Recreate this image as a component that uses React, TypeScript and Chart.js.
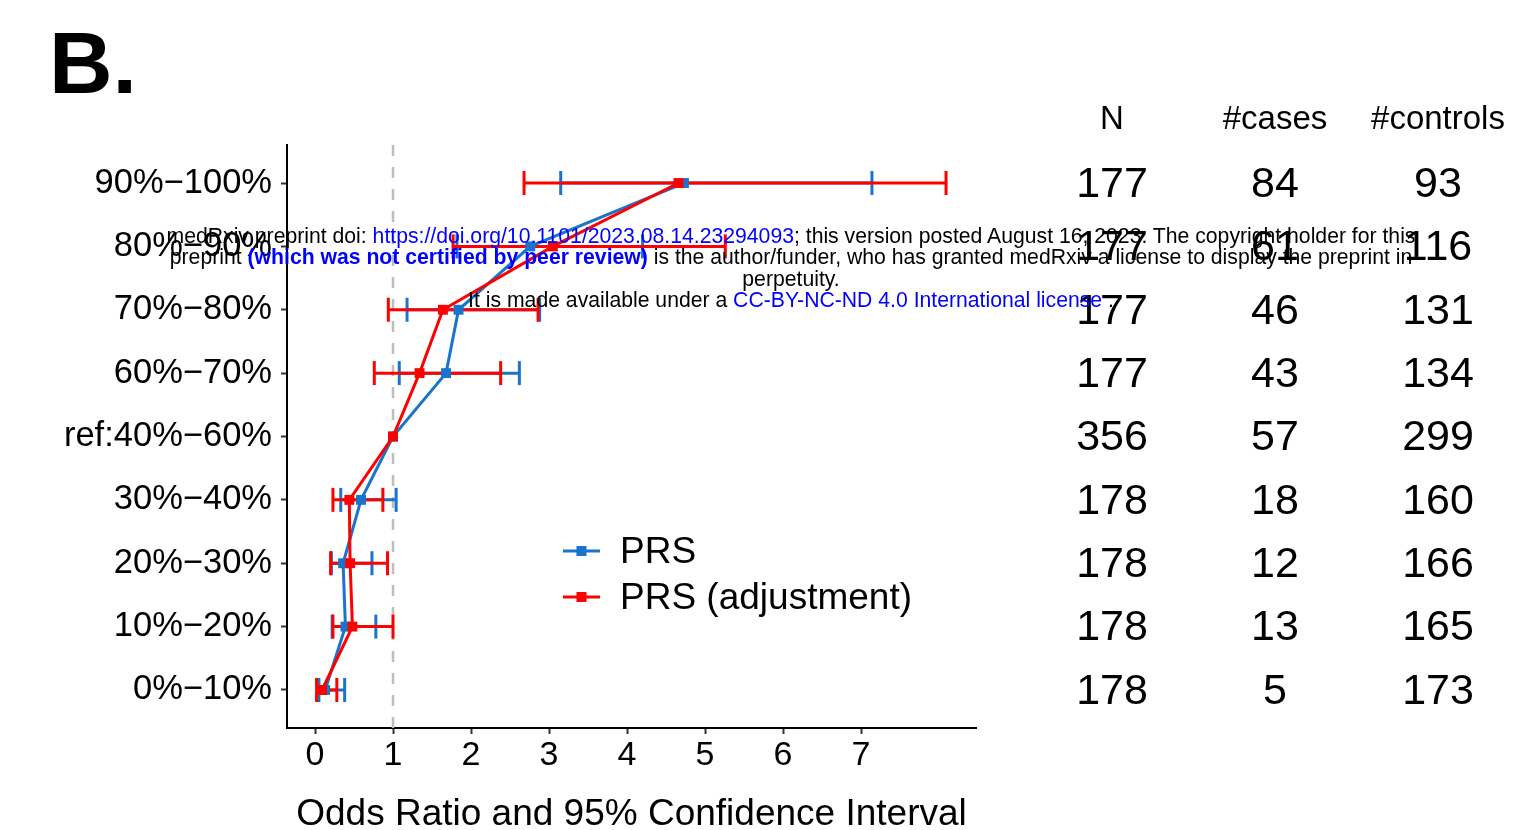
import React, { useEffect, useRef } from "react";
import { Chart, registerables } from "chart.js";

Chart.register(...registerables);

// ---------- data ----------
const rowLabels = [
  "90%−100%",
  "80%−90%",
  "70%−80%",
  "60%−70%",
  "ref:40%−60%",
  "30%−40%",
  "20%−30%",
  "10%−20%",
  "0%−10%",
];
const prsOR = [4.73, 2.76, 1.84, 1.68, 1.0, 0.59, 0.36, 0.39, 0.13];
const prsLo = [3.15, 1.82, 1.18, 1.08, null, 0.33, 0.21, 0.22, 0.05];
const prsHi = [7.14, 4.2, 2.88, 2.62, null, 1.04, 0.73, 0.78, 0.38];
const adjOR = [4.66, 3.05, 1.64, 1.34, 1.0, 0.44, 0.45, 0.48, 0.09];
const adjLo = [2.68, 1.77, 0.94, 0.76, null, 0.23, 0.2, 0.23, 0.02];
const adjHi = [8.09, 5.26, 2.86, 2.38, null, 0.87, 0.93, 1.0, 0.28];

const nTotal = [177, 177, 177, 177, 356, 178, 178, 178, 178];
const nCases = [84, 61, 46, 43, 57, 18, 12, 13, 5];
const nControls = [93, 116, 131, 134, 299, 160, 166, 165, 173];
const tableHeaders = ["N", "#cases", "#controls"];

const xTicks = [0, 1, 2, 3, 4, 5, 6, 7];
const refValue = 1;
const seriesNames = ["PRS", "PRS (adjustment)"];
const xTitle = "Odds Ratio and 95% Confidence Interval";
const panelLabel = "B.";

// ---------- style ----------
const FONT = "'Liberation Sans', Arial, Helvetica, sans-serif";
const BLUE = "#1874CD";
const RED = "#FF0000";
const X_MIN = -0.359;
const X_MAX = 8.474;
const Y_MIN = -0.6;
const Y_MAX = rowLabels.length - 1 + 0.6;

const toPoints = (vals: number[]) => vals.map((v, i) => ({ x: v, y: i }));
const toErrorBars = (lo: (number | null)[], hi: (number | null)[]) => {
  const out: { x: number | null; y: number | null }[] = [];
  lo.forEach((l, i) => {
    const h = hi[i];
    if (l == null || h == null) return;
    out.push({ x: l, y: i }, { x: h, y: i }, { x: null, y: null });
  });
  return out;
};

const overlayPlugin = {
  id: "overlay",
  afterDraw(chart: any) {
    const ctx = chart.ctx;
    const yScale = chart.scales.y;
    ctx.save();
    // panel label
    ctx.fillStyle = "#000";
    ctx.font = `bold 88px ${FONT}`;
    ctx.textAlign = "left";
    ctx.textBaseline = "alphabetic";
    ctx.fillText(panelLabel, 49, 93);

    // table
    const colX = [1112, 1275, 1438];
    const cols = [nTotal, nCases, nControls];
    ctx.textAlign = "center";
    ctx.textBaseline = "middle";
    ctx.font = `33px ${FONT}`;
    tableHeaders.forEach((h, c) => ctx.fillText(h, colX[c], 120));
    ctx.font = `43px ${FONT}`;
    cols.forEach((col, c) => {
      col.forEach((v, i) => {
        ctx.fillText(String(v), colX[c], yScale.getPixelForValue(i) + 2);
      });
    });

    // legend
    const items = [
      { label: seriesNames[0], color: BLUE, y: 551 },
      { label: seriesNames[1], color: RED, y: 597 },
    ];
    items.forEach((it) => {
      ctx.strokeStyle = it.color;
      ctx.lineWidth = 3;
      ctx.beginPath();
      ctx.moveTo(563, it.y);
      ctx.lineTo(600, it.y);
      ctx.stroke();
      ctx.fillStyle = it.color;
      ctx.fillRect(581.5 - 5, it.y - 5, 10, 10);
      ctx.fillStyle = "#000";
      ctx.font = `37px ${FONT}`;
      ctx.textAlign = "left";
      ctx.textBaseline = "middle";
      ctx.fillText(it.label, 620, it.y + 2);
    });
    ctx.restore();
  },
};

export default function App() {
  const canvasRef = useRef<HTMLCanvasElement | null>(null);

  useEffect(() => {
    if (!canvasRef.current) return;
    const errCommon = {
      type: "line" as const,
      borderWidth: 3,
      pointStyle: "line" as const,
      pointRotation: 90,
      pointRadius: 12,
      pointBorderWidth: 3,
      spanGaps: false,
      fill: false,
    };
    const chart = new Chart(canvasRef.current, {
      type: "line",
      data: {
        datasets: [
          {
            label: "ref",
            data: [
              { x: refValue, y: Y_MIN },
              { x: refValue, y: Y_MAX },
            ],
            borderColor: "#BEBEBE",
            borderWidth: 2.5,
            borderDash: [11, 11],
            pointRadius: 0,
            order: 6,
          },
          {
            ...errCommon,
            label: seriesNames[0] + " CI",
            data: toErrorBars(prsLo, prsHi) as any,
            borderColor: BLUE,
            pointBorderColor: BLUE,
            order: 5,
          },
          {
            ...errCommon,
            label: seriesNames[1] + " CI",
            data: toErrorBars(adjLo, adjHi) as any,
            borderColor: RED,
            pointBorderColor: RED,
            order: 4,
          },
          {
            label: seriesNames[0],
            data: toPoints(prsOR),
            borderColor: BLUE,
            borderWidth: 3,
            pointStyle: "rect",
            pointRadius: 7,
            pointBorderWidth: 0,
            pointBackgroundColor: BLUE,
            order: 3,
          },
          {
            label: seriesNames[1],
            data: toPoints(adjOR),
            borderColor: RED,
            borderWidth: 3,
            pointStyle: "rect",
            pointRadius: 7,
            pointBorderWidth: 0,
            pointBackgroundColor: RED,
            order: 2,
          },
        ],
      },
      options: {
        animation: false,
        responsive: false,
        maintainAspectRatio: false,
        events: [],
        layout: { padding: { left: 0, right: 538, top: 145, bottom: 0 } },
        plugins: {
          legend: { display: false },
          tooltip: { enabled: false },
        },
        scales: {
          x: {
            type: "linear",
            min: X_MIN,
            max: X_MAX,
            afterBuildTicks: (scale: any) => {
              scale.ticks = xTicks.map((v) => ({ value: v }));
            },
            afterFit: (scale: any) => {
              scale.height = 102;
            },
            ticks: {
              autoSkip: false,
              maxRotation: 0,
              padding: 5,
              color: "#000",
              font: { family: FONT, size: 34, lineHeight: 1 },
              callback: (v: any) => String(v),
            },
            grid: {
              drawOnChartArea: false,
              drawTicks: true,
              tickLength: 6,
              tickColor: "#333333",
              tickWidth: 2,
            },
            border: { display: true, color: "#000", width: 2 },
            title: {
              display: true,
              text: xTitle,
              color: "#000",
              font: { family: FONT, size: 37, lineHeight: 0.8 },
              padding: 0,
            },
          },
          y: {
            type: "linear",
            min: Y_MIN,
            max: Y_MAX,
            reverse: true,
            afterBuildTicks: (scale: any) => {
              scale.ticks = rowLabels.map((_, i) => ({ value: i }));
            },
            afterFit: (scale: any) => {
              scale.width = 287;
            },
            ticks: {
              autoSkip: false,
              padding: 9,
              color: "#000",
              font: { family: FONT, size: 34.5, lineHeight: 1 },
              callback: (v: any) => rowLabels[v] ?? "",
            },
            grid: {
              drawOnChartArea: false,
              drawTicks: true,
              tickLength: 6,
              tickColor: "#333333",
              tickWidth: 2,
            },
            border: { display: true, color: "#000", width: 2 },
          },
        },
      },
      plugins: [overlayPlugin],
    } as any);
    return () => chart.destroy();
  }, []);

  const blue = { color: "#0000FF" };
  return (
    <div style={{ position: "absolute", left: 0, top: 0, width: 1514, height: 830, background: "#fff" }}>
      <canvas ref={canvasRef} width={1514} height={830} style={{ display: "block" }} />
      <div
        style={{
          position: "absolute",
          left: 91,
          top: 225,
          width: 1400,
          textAlign: "center",
          fontFamily: FONT,
          fontSize: 21.2,
          lineHeight: "21.3px",
          color: "#000",
          whiteSpace: "nowrap",
          pointerEvents: "none",
        }}
      >
        <div>
          medRxiv preprint doi: <span style={blue}>https://doi.org/10.1101/2023.08.14.23294093</span>; this version
          posted August 16, 2023. The copyright holder for this
        </div>
        <div>
          preprint <span style={{ ...blue, fontWeight: "bold" }}>(which was not certified by peer review)</span> is the
          author/funder, who has granted medRxiv a license to display the preprint in
        </div>
        <div>perpetuity.</div>
        <div>
          It is made available under a <span style={blue}>CC-BY-NC-ND 4.0 International license</span> .
        </div>
      </div>
    </div>
  );
}
